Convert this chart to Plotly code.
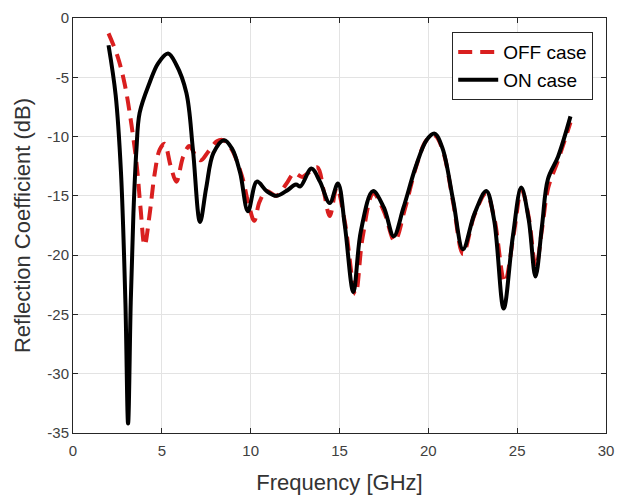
import plotly.graph_objects as go

# OFF case (red dashed)
off_freq = [2.0, 2.5, 2.9, 3.3, 3.6, 3.8, 4.03, 4.3, 4.6, 4.88, 5.15, 5.5, 5.82, 6.2, 6.55, 6.9,
            7.2, 7.6, 8.1, 8.45, 8.9, 9.5, 9.9, 10.2, 10.5, 10.9, 11.45, 12.0, 12.45, 12.9, 13.2,
            13.75, 14.1, 14.45, 14.85, 15.3, 15.9, 16.3, 16.9, 17.5, 18.1, 18.7, 19.3, 19.9, 20.35,
            20.8, 21.4, 21.95, 22.6, 23.25, 23.7, 24.3, 24.8, 25.25, 25.65, 26.05, 26.4, 26.75,
            27.3, 28.0]
off_db = [-1.3, -3.2, -5.5, -9.1, -12.6, -16.0, -19.2, -16.7, -13.1, -11.1, -10.6, -12.5, -13.8,
          -11.7, -10.8, -11.6, -12.0, -11.3, -10.4, -10.3, -11.0, -13.3, -15.8, -17.1, -15.5,
          -14.6, -15.0, -14.0, -13.1, -13.4, -13.1, -12.6, -14.5, -16.7, -14.3, -17.2, -23.3,
          -18.5, -14.8, -16.3, -18.8, -16.0, -12.6, -10.3, -9.9, -11.1, -15.6, -19.9, -16.6,
          -14.8, -16.8, -22.3, -18.3, -14.5, -16.8, -21.0, -17.8, -14.3, -12.0, -8.8]

# ON case (black solid)
on_freq = [2.0, 2.4, 2.7, 2.95, 3.1, 3.25, 3.4, 3.57, 3.75, 4.3, 4.8, 5.35, 5.8, 6.38, 6.75,
           7.15, 7.5, 7.9, 8.5, 8.95, 9.4, 9.85, 10.35, 10.9, 11.45, 12.0, 12.55, 12.8, 13.42,
           13.9, 14.45, 14.91, 15.3, 15.78, 16.2, 16.88, 17.5, 18.05, 18.6, 19.3, 19.9, 20.35,
           20.8, 21.4, 21.95, 22.6, 23.26, 23.7, 24.24, 24.75, 25.23, 25.65, 26.03, 26.4, 26.73,
           27.3, 28.0]
on_db = [-2.3, -6.5, -13.0, -24.0, -34.2, -24.0, -16.5, -11.1, -8.0, -5.5, -3.8, -3.0, -3.9,
         -6.3, -11.1, -17.2, -14.3, -11.4, -10.3, -11.0, -13.0, -16.3, -13.8, -14.6, -15.0,
         -14.6, -14.05, -14.2, -12.7, -13.8, -15.6, -13.95, -17.5, -23.1, -18.0, -14.6, -16.0,
         -18.4, -16.0, -12.5, -10.3, -9.75, -11.0, -15.4, -19.5, -16.5, -14.6, -17.0, -24.5,
         -18.5, -14.3, -17.0, -21.8, -17.5, -13.6, -11.7, -8.3]

x_ticks = [0, 5, 10, 15, 20, 25, 30]
y_ticks = [0, -5, -10, -15, -20, -25, -30, -35]

font_family = "Liberation Sans, Arial, sans-serif"
axis_col = "#262626"
grid_col = "#e3e3e3"

fig = go.Figure()
fig.add_trace(go.Scatter(
    x=off_freq, y=off_db, name="OFF case", mode="lines",
    line=dict(color="#d91f1f", width=4, dash="14px,8px", shape="spline", smoothing=1.0),
))
fig.add_trace(go.Scatter(
    x=on_freq, y=on_db, name="ON case", mode="lines",
    line=dict(color="#000000", width=4, shape="spline", smoothing=1.0),
))

axis_common = dict(
    showline=True, linecolor=axis_col, linewidth=1, mirror="ticks",
    ticks="inside", ticklen=5, tickwidth=1, tickcolor=axis_col,
    showgrid=True, gridcolor=grid_col, gridwidth=1, zeroline=False,
    tickfont=dict(family=font_family, size=15, color="#404040"),
    automargin=False,
)

fig.update_xaxes(
    range=[0, 30], tickvals=x_ticks, ticktext=[str(v) for v in x_ticks],
    ticklabelstandoff=4,
    title=dict(text="Frequency [GHz]", font=dict(family=font_family, size=22, color="#333333"),
               standoff=18),
    **axis_common,
)
fig.update_yaxes(
    range=[-35, 0], tickvals=y_ticks, ticktext=[str(v) for v in y_ticks],
    title=dict(text="Reflection Coefficient (dB)", font=dict(family=font_family, size=22, color="#333333"),
               standoff=10),
    **axis_common,
)

fig.update_layout(
    width=617, height=495,
    margin=dict(l=73, r=11, t=18, b=62),
    paper_bgcolor="white", plot_bgcolor="white",
    showlegend=True,
    legend=dict(
        x=0.976, y=0.966, xanchor="right", yanchor="top",
        bgcolor="white", bordercolor=axis_col, borderwidth=1,
        font=dict(family=font_family, size=19, color="#000000"),
        tracegroupgap=0, itemwidth=40,
    ),
)

fig.write_html("out.html")
